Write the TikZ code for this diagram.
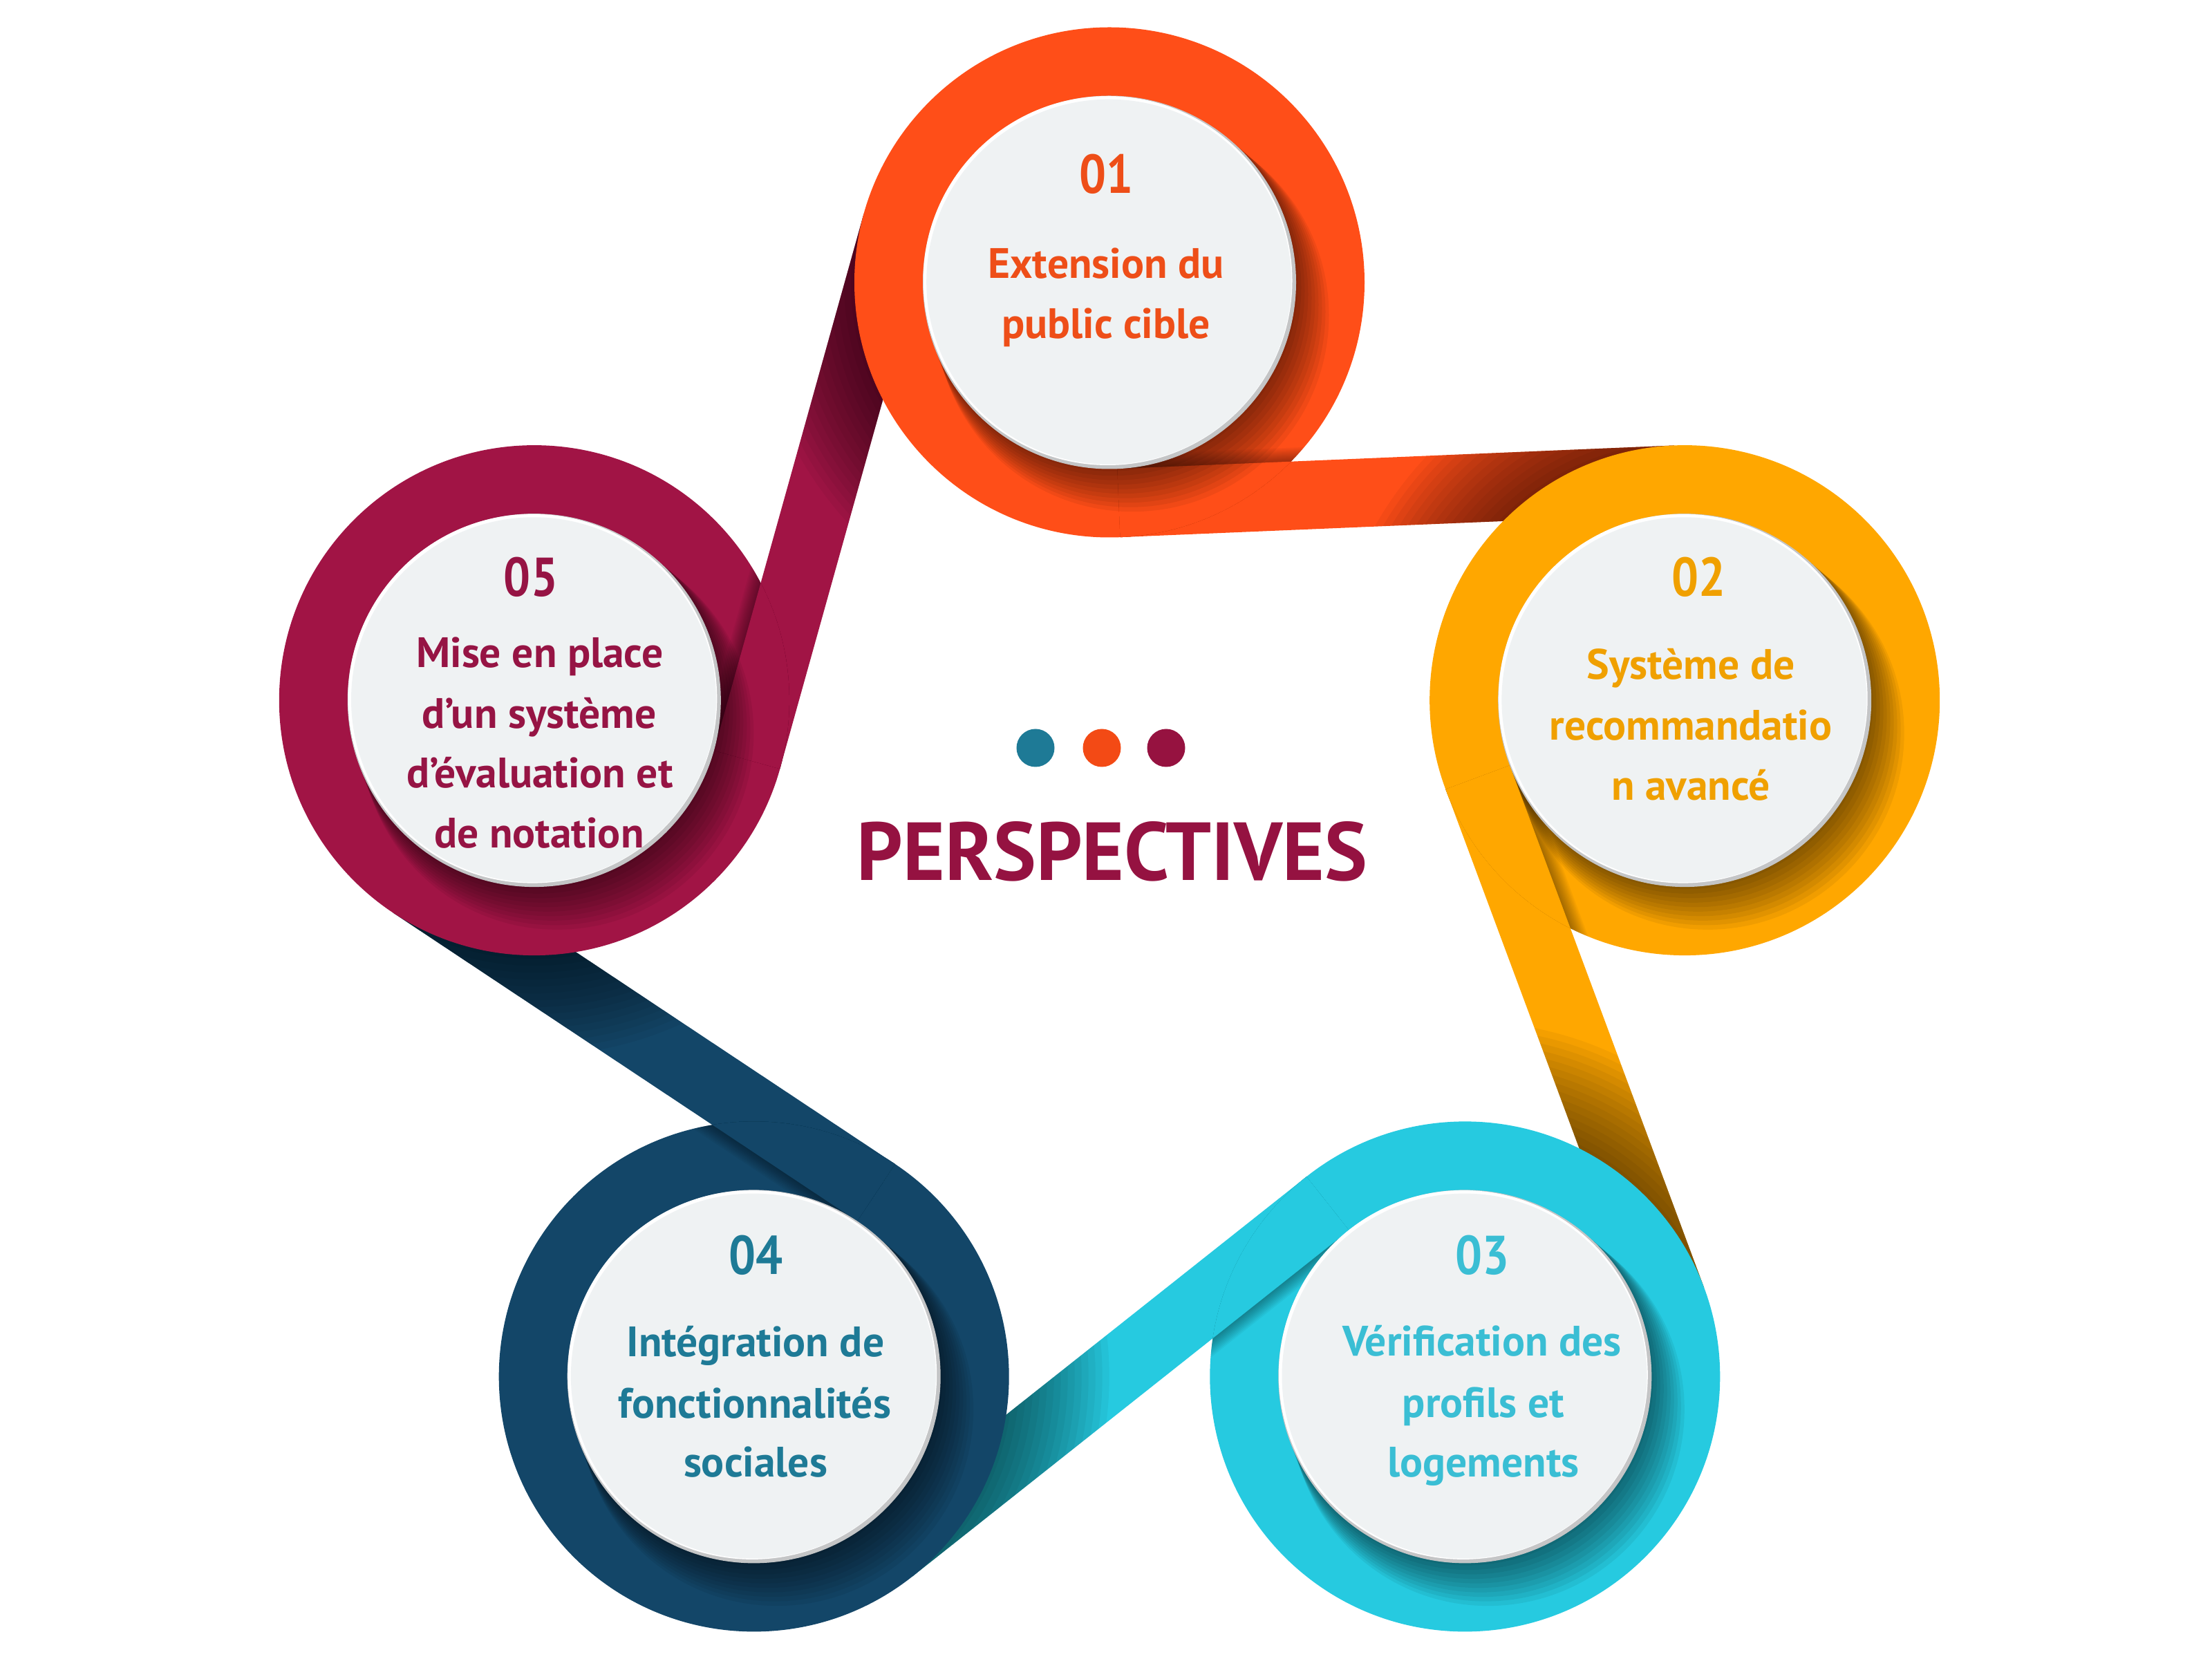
\documentclass[tikz,border=0pt]{standalone}
\usepackage{fontspec}
\usetikzlibrary{calc}
\newfontfamily\labfont{PT Sans}
\definecolor{cR1}{RGB}{255,78,24}
\definecolor{cR2}{RGB}{255,167,0}
\definecolor{cR3}{RGB}{38,202,224}
\definecolor{cR4}{RGB}{19,70,104}
\definecolor{cR5}{RGB}{161,20,69}
\definecolor{cT1}{RGB}{238,78,24}
\definecolor{cT2}{RGB}{240,160,0}
\definecolor{cT3}{RGB}{58,190,212}
\definecolor{cT4}{RGB}{30,122,150}
\definecolor{cT5}{RGB}{150,20,68}
\definecolor{ttl}{RGB}{149,18,65}
\definecolor{dotA}{RGB}{30,122,150}
\definecolor{dotB}{RGB}{243,74,21}
\definecolor{dotC}{RGB}{150,18,64}
\definecolor{rim}{RGB}{196,197,198}
\definecolor{face}{RGB}{239,242,243}
\newcommand{\numtxt}[1]{\scalebox{0.87}[1]{#1}}
\tikzset{
  lbl/.style={anchor=base, inner sep=0pt, font=\labfont\bfseries\fontsize{17.5}{20}\selectfont},
  numlbl/.style={anchor=base, inner sep=0pt, font=\labfont\bfseries\fontsize{22.5}{26}\selectfont},
}
\begin{document}
\begin{tikzpicture}
\fill[white] (0,0) rectangle (32,-24);
\useasboundingbox (0,0) rectangle (32,-24);
\coordinate (O) at (16.05,-12.835);
\foreach \k in {1,...,5}{\path (O) ++({90-72*(\k-1)}:8.75) coordinate (c\k);}
\foreach \k/\n in {1/2,2/3,3/4,4/5,5/1}{
  \path (c\k) ++({-87.59-72*(\k-1)}:3.195) coordinate (s\k);
  \path (c\n) ++({92.41-72*(\k-1)}:3.195) coordinate (e\k);
  \coordinate (pa\k) at ($(s\k)!0.495cm!90:(e\k)$);
  \coordinate (pb\k) at ($(s\k)!0.495cm!-90:(e\k)$);
  \coordinate (pc\k) at ($(e\k)!0.495cm!90:(s\k)$);
  \coordinate (pd\k) at ($(e\k)!0.495cm!-90:(s\k)$);
}
% bands
\foreach \k/\n in {1/2,2/3,3/4,4/5,5/1}{
  \fill[cR\k] (pa\k)--(pb\k)--(pc\k)--(pd\k)--cycle;
  \begin{scope}
    \clip (pa\k)--(pb\k)--(pc\k)--(pd\k)--cycle;
    \foreach \rr in {0.05,0.15,...,1.45}{\fill[black,opacity=0.045] (c\n) circle[radius={3.69+\rr}];}
  \end{scope}
}
% rings and disks
\foreach \k in {1,...,5}{
  \fill[cR\k] (c\k) circle[radius=3.69];
  \begin{scope}
    \clip (c\k) circle[radius=3.69];
    \foreach \w in {1.03,1.07,...,1.43}{\draw[black,opacity=0.04,line width=\w cm] (s\k)--(e\k);}
    \fill[cR\k] (pa\k)--(pb\k)--(pc\k)--(pd\k)--cycle;
    \foreach \t in {0.05,0.15,...,0.95}{\fill[black,opacity=0.06] ($(c\k)+({0.35*\t},{-0.5*\t})$) circle[radius={2.70+0.15*\t}];}
  \end{scope}
  \fill[rim] (c\k) circle[radius=2.70];
  \fill[white] ($(c\k)+(-0.025,0.025)$) circle[radius=2.67];
  \fill[face] ($(c\k)+(-0.008,0.008)$) circle[radius=2.64];
}
% texts
\node[numlbl,text=cT1] (n1) at (16.00,-2.80) {\numtxt{01}};
\node[lbl,text=cT1] (t1a) at (16.00,-4.03) {Extension du};
\node[lbl,text=cT1] (t1b) at (16.00,-4.90) {public cible};
\node[numlbl,text=cT2] (n2) at (24.57,-8.63) {\numtxt{02}};
\node[lbl,text=cT2] (t2a) at (24.46,-9.83) {Système de};
\node[lbl,text=cT2] (t2b) at (24.46,-10.71) {recommandatio};
\node[lbl,text=cT2] (t2c) at (24.46,-11.58) {n avancé};
\node[numlbl,text=cT3] (n3) at (21.44,-18.44) {\numtxt{03}};
\node[lbl,text=cT3] (t3a) at (21.44,-19.62) {Vérification des};
\node[lbl,text=cT3] (t3b) at (21.46,-20.50) {profils et};
\node[lbl,text=cT3] (t3c) at (21.46,-21.37) {logements};
\node[numlbl,text=cT4] (n4) at (10.93,-18.44) {\numtxt{04}};
\node[lbl,text=cT4] (t4a) at (10.93,-19.63) {Intégration de};
\node[lbl,text=cT4] (t4b) at (10.92,-20.51) {fonctionnalités};
\node[lbl,text=cT4] (t4c) at (10.93,-21.37) {sociales};
\node[numlbl,text=cT5] (n5) at (7.68,-8.63) {\numtxt{05}};
\node[lbl,text=cT5] (t5a) at (7.81,-9.66) {Mise en place};
\node[lbl,text=cT5] (t5b) at (7.80,-10.54) {d’un système};
\node[lbl,text=cT5] (t5c) at (7.81,-11.40) {d’évaluation et};
\node[lbl,text=cT5] (t5d) at (7.80,-12.27) {de notation};
% centre
\fill[dotA] (14.98,-10.82) circle[radius=0.275];
\fill[dotB] (15.94,-10.82) circle[radius=0.275];
\fill[dotC] (16.87,-10.82) circle[radius=0.275];
\node[anchor=base, inner sep=0pt, text=ttl] (title) at (16.09,-12.74) {\resizebox{7.38cm}{0.85cm}{\labfont\bfseries PERSPECTIVES}};
\end{tikzpicture}
\end{document}
